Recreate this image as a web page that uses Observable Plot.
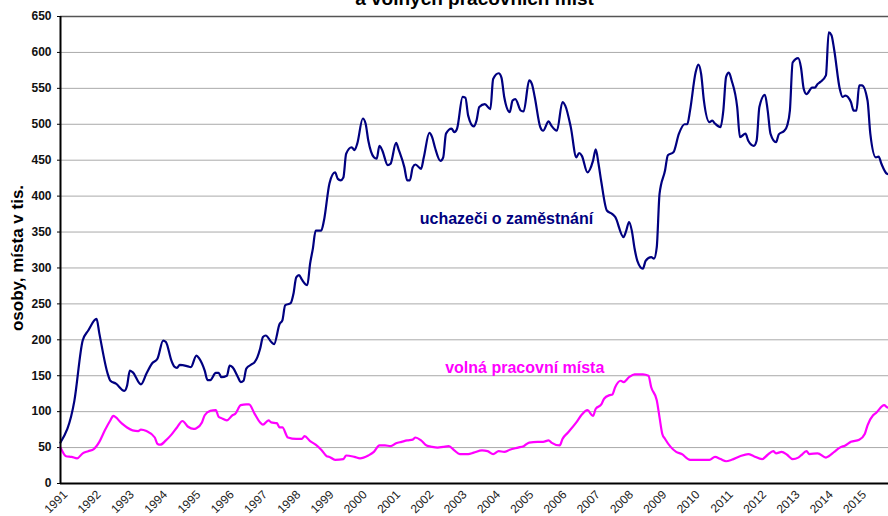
<!DOCTYPE html>
<html><head><meta charset="utf-8">
<script src="https://cdn.jsdelivr.net/npm/d3@7"></script>
<script src="https://cdn.jsdelivr.net/npm/@observablehq/plot@0.6"></script>
<style>
body{margin:0;background:#fff}
#chart{position:relative;width:888px;height:516px;overflow:hidden}
</style>
</head><body><div id="chart"></div>
<script>
// category / tick labels
const years = d3.range(1991, 2016);
const yTicks = d3.range(0, 651, 50);
const titleText = "a volných pracovních míst";
const yLabel = "osoby, místa v tis.";
const seriesNames = ["uchazeči o zaměstnání", "volná pracovní místa"];
const seriesColors = ["#000080", "#ff00ff"];
// label anchor positions (decimal year, value)
const labelYears = [2004.4, 2004.95];
const labelValues = [369, 161];

// uchazeči o zaměstnání (months since Jan 1991, thousands)
const ucMonths = [0,5,8,10,13,14,17,18,20,23,24,25,26,29,31,33,35,37,38,40,41,42,43,46,47,49,50,52,53,54,56,57,58,60,61,62,64,65,66,67,69,70,71,72,73,74,76,77,79,80,81,83,84,85,86,87,89,90,91,92,94,95,97,99,100,101,102,103,105,106,107,109,110,111,113,114,115,116,118,119,121,122,124,125,126,127,128,130,131,133,134,135,137,138,139,141,142,143,145,146,147,149,150,151,153,155,156,158,159,160,162,163,164,166,167,169,170,171,173,174,176,177,179,181,182,184,186,187,188,190,192,193,194,195,197,199,200,203,204,205,206,207,208,210,211,213,214,215,216,218,219,221,223,225,226,227,229,230,231,232,234,235,236,238,239,240,241,242,244,245,247,248,250,251,252,254,255,256,258,259,261,262,263,264,266,267,268,269,271,272,273,274,276,277,278,279,281,282,283,285,286,287,288,289,291,292,294,295,296,298,299];
const ucValues = [57,115,199,213,229,209,153,143,139,129,136,157,155,138,153,167,174,199,197,171,163,161,165,163,162,178,174,157,144,144,154,154,148,150,164,162,148,141,143,160,166,169,176,188,204,206,197,194,222,227,248,251,264,287,290,284,276,306,327,352,352,366,418,433,424,422,426,459,468,464,473,508,501,477,454,452,470,464,443,445,474,464,440,422,422,440,444,438,454,488,482,468,449,454,487,494,489,494,538,537,512,497,505,524,528,521,563,571,565,538,517,533,535,519,518,561,556,538,496,491,504,498,491,531,526,496,454,460,456,433,449,465,445,420,380,375,371,343,352,364,352,327,310,299,310,315,313,329,403,436,457,461,487,500,500,519,572,583,570,533,503,505,501,496,519,566,572,561,524,482,487,477,470,477,524,541,519,487,475,486,491,498,519,586,592,579,549,542,551,551,556,559,568,628,624,603,549,538,540,531,519,519,554,554,533,487,454,455,445,431,430];

// volná pracovní místa (months since Jan 1991, thousands)
const vmMonths = [0,2,4,6,8,10,12,14,16,18,19,22,24,26,28,29,31,34,35,36,38,40,42,44,46,48,49,51,52,54,56,57,58,60,62,63,65,67,68,70,72,73,75,76,78,79,80,82,85,87,88,90,92,94,96,97,99,102,103,106,108,111,113,115,117,119,121,123,125,127,128,130,132,134,136,138,140,142,144,147,149,152,154,156,158,160,162,165,167,169,172,174,176,177,180,181,183,186,188,190,192,193,195,196,198,199,200,202,203,205,207,210,212,213,215,216,217,218,220,222,224,227,230,232,234,236,238,240,242,245,248,250,253,255,257,258,260,262,264,266,267,269,270,273,276,277,279,281,283,285,288,290,291,293,294,297,298,299];
const vmValues = [50,38,37,35,42,45,48,58,74,88,94,84,78,74,73,75,73,64,55,54,60,68,78,87,79,76,77,85,95,101,102,93,91,88,95,97,109,110,110,97,85,82,88,85,84,78,78,64,62,62,66,59,54,47,38,37,33,34,39,37,35,39,44,53,53,52,56,58,60,61,64,60,53,51,50,51,52,46,41,41,43,46,45,41,45,44,47,50,52,57,58,58,60,57,53,62,71,85,96,102,94,104,110,118,123,124,134,143,141,148,152,152,150,134,116,92,69,62,51,44,41,33,33,33,33,37,34,31,33,38,41,38,34,40,45,42,44,40,34,36,39,45,41,42,36,38,44,50,53,58,61,69,81,95,98,109,106,105];

const uc = ucMonths.map((m, i) => ({t: 1991 + m / 12, v: ucValues[i]}));
const vm = vmMonths.map((m, i) => ({t: 1991 + m / 12, v: vmValues[i]}));
const labels = seriesNames.map((name, i) => ({name, t: labelYears[i], v: labelValues[i], c: seriesColors[i]}));

const chart = Plot.plot({
  width: 888, height: 516,
  marginTop: 16, marginBottom: 33, marginLeft: 60, marginRight: 0,
  style: {fontFamily: "'Liberation Sans', Arial, sans-serif", background: "#fff", overflow: "visible"},
  x: {domain: [1991, 2015.88], label: null},
  y: {domain: [0, 650], label: null},
  marks: [
    Plot.ruleY(yTicks.filter(d => d > 0 && d < 650), {stroke: "#aaaaaa", strokeWidth: 1}),
    Plot.ruleY([650], {stroke: "#555555", strokeWidth: 1.5}),
    Plot.axisY({ticks: yTicks, tickSize: 3, tickPadding: 6, fontSize: 12, fontWeight: "bold", fill: "#111", label: null}),
    Plot.axisX({ticks: years, tickFormat: d => String(d), tickRotate: -45, tickSize: 0, tickPadding: 9, dx: 5, fontSize: 12, fill: "#222", label: null}),
    Plot.line(uc, {x: "t", y: "v", stroke: seriesColors[0], strokeWidth: 2.2, curve: "monotone-x"}),
    Plot.line(vm, {x: "t", y: "v", stroke: seriesColors[1], strokeWidth: 2.2, curve: "monotone-x"}),
    Plot.ruleX([1991], {stroke: "#000", strokeWidth: 2}),
    Plot.ruleY([0], {stroke: "#000", strokeWidth: 2}),
    Plot.text(labels, {x: "t", y: "v", text: "name", fill: "c", fontSize: 16, fontWeight: "bold"}),
    Plot.text([titleText], {frameAnchor: "top", dy: -12, lineAnchor: "bottom", fontSize: 19, fontWeight: "bold", fill: "#000"}),
    Plot.text([yLabel], {frameAnchor: "left", textAnchor: "middle", rotate: -90, dx: -43, dy: 8, fontSize: 17, fontWeight: "bold", fill: "#000"})
  ]
});
document.getElementById("chart").appendChild(chart);
</script>
</body></html>
